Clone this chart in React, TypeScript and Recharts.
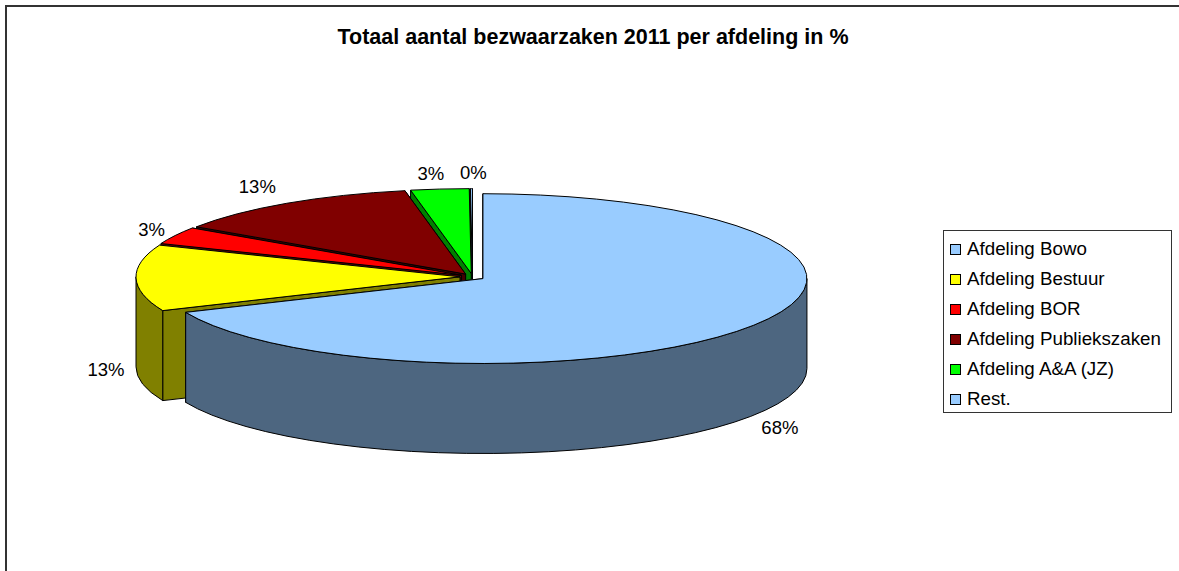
import React from 'react'
import { PieChart, Pie, Legend } from 'recharts'

// listed back to front, so the front slice is painted last
const names = ['Rest.', 'Afdeling A&A (JZ)', 'Afdeling Publiekszaken', 'Afdeling BOR', 'Afdeling Bestuur', 'Afdeling Bowo']
const values = [0.1, 2.9, 12.6, 3.3, 12.61, 68.49]
const topColors = ['#99CCFF', '#00FF00', '#800000', '#FF0000', '#FFFF00', '#99CCFF']
const wallColors = ['#4D6680', '#008000', '#400000', '#800000', '#808000', '#4D6680']
const labelNudge = [[2, 2], [-6, 2], [-13, -2], [3, 2], [0, 1], [1, 2]]

const rows = names.map((name, i) => ({ name, value: values[i], fill: topColors[i], wall: wallColors[i], nudge: labelNudge[i] }))

const CX = 472.5
const CY = 276.8
const RX = 324
const SQUASH = 0.262
const RY = RX * SQUASH
const DEPTH = 90
const EXPLODE = 12.5
const rad = (a: number) => (a * Math.PI) / 180

function Slice3D(props: any) {
  const { startAngle, endAngle, midAngle, fill } = props
  const wall = props.wall ?? props.payload?.wall
  const cx = CX + EXPLODE * Math.cos(rad(midAngle))
  const cy = CY - EXPLODE * SQUASH * Math.sin(rad(midAngle))
  const px = (a: number) => cx + RX * Math.cos(rad(a))
  const py = (a: number) => cy - RY * Math.sin(rad(a))
  const large = endAngle - startAngle > 180 ? 1 : 0

  const radial = (a: number) =>
    `M${cx},${cy} L${px(a)},${py(a)} L${px(a)},${py(a) + DEPTH} L${cx},${cy + DEPTH} Z`

  // the rim only shows on the front half of the ellipse
  const from = Math.max(startAngle, 180)
  const to = Math.min(endAngle, 360)
  const rim =
    to > from
      ? `M${px(from)},${py(from)} A${RX},${RY} 0 0 0 ${px(to)},${py(to)} L${px(to)},${py(to) + DEPTH} A${RX},${RY} 0 0 1 ${px(from)},${py(from) + DEPTH} Z`
      : null
  const top = `M${cx},${cy} L${px(startAngle)},${py(startAngle)} A${RX},${RY} 0 ${large} 0 ${px(endAngle)},${py(endAngle)} Z`

  return (
    <g stroke="#000" strokeWidth={1} strokeLinejoin="round">
      <path d={radial(startAngle)} fill={wall} />
      <path d={radial(endAngle)} fill={wall} />
      {rim && <path d={rim} fill={wall} />}
      <path d={top} fill={fill} />
    </g>
  )
}

function SliceLabel(props: any) {
  const { midAngle, percent } = props
  const nudge = props.nudge ?? props.payload?.nudge ?? [0, 0]
  const c = Math.cos(rad(midAngle))
  const s = Math.sin(rad(midAngle))
  const x = CX + EXPLODE * c + (RX + 30) * c + nudge[0]
  const y = CY - EXPLODE * SQUASH * s - (RY + 18) * s + (s < -0.01 ? DEPTH : 0) + nudge[1]
  return (
    <text x={x} y={y} textAnchor="middle" dominantBaseline="central" fontFamily="Liberation Sans" fontSize={18.5} fill="#000">
      {Math.round(percent * 100)}%
    </text>
  )
}

function LegendBox({ payload }: any) {
  const items = [...(payload ?? [])].reverse()
  return (
    <div style={{ width: 229, height: 183, boxSizing: 'border-box', border: '1px solid #333', background: '#fff', paddingTop: 3 }}>
      {items.map((it: any) => (
        <div key={it.value} style={{ height: 30, display: 'flex', alignItems: 'center', paddingLeft: 6, fontFamily: 'Liberation Sans', fontSize: 18.75, color: '#000' }}>
          <span style={{ width: 11, height: 11, boxSizing: 'border-box', border: '1px solid #000', background: it.color, marginRight: 6, flex: 'none' }} />
          {it.value}
        </div>
      ))}
    </div>
  )
}

export default function App() {
  return (
    <div style={{ position: 'absolute', left: 0, top: 0, width: 1179, height: 571, overflow: 'hidden', background: '#fff' }}>
      <div style={{ position: 'absolute', left: 5, top: 5, width: 1172, height: 600, border: '2px solid #333' }} />
      <PieChart width={1179} height={571} style={{ position: 'absolute', left: 0, top: 0 }}>
        <text x={593} y={44} textAnchor="middle" fontFamily="Liberation Sans" fontWeight="bold" fontSize={21.5} fill="#000">
          Totaal aantal bezwaarzaken 2011 per afdeling in %
        </text>
        <Pie
          data={rows}
          dataKey="value"
          nameKey="name"
          cx={CX}
          cy={CY}
          outerRadius={RX}
          startAngle={90}
          endAngle={450}
          stroke="none"
          shape={Slice3D}
          activeShape={Slice3D}
          inactiveShape={Slice3D}
          label={SliceLabel}
          labelLine={false}
          isAnimationActive={false}
        />
        <Legend content={LegendBox} itemSorter={null} wrapperStyle={{ left: 943, top: 230, width: 229, height: 183, bottom: 'auto' }} />
      </PieChart>
    </div>
  )
}
